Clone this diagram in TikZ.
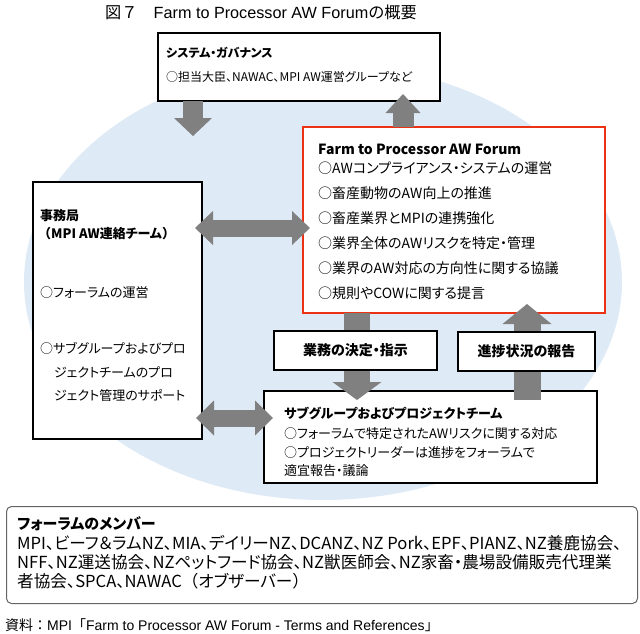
\documentclass[tikz,border=0pt]{standalone}
\usepackage{fontspec}
\usetikzlibrary{arrows.meta}
\newfontfamily\jp[RawFeature=+palt]{Noto Sans CJK JP}
\newfontfamily\jpf{Noto Sans CJK JP}
\newfontfamily\lat{Liberation Sans}
\definecolor{ellblue}{RGB}{222,234,246}
\definecolor{arrgray}{RGB}{128,128,128}
\definecolor{frred}{RGB}{235,50,20}
\definecolor{memgray}{RGB}{100,100,100}
\newcommand{\fsz}[1]{\fontsize{#1}{#1}\selectfont}
\begin{document}
\begin{tikzpicture}[x=1pt,y=-1pt,
  box/.style={draw=black,line width=1.5pt,fill=white,anchor=north west,inner sep=0pt,outer sep=0pt},
  tx/.style={anchor=base west,inner sep=0pt,font=\jp\fsz{13}},
  txb/.style={anchor=base west,inner sep=0pt,font=\jp\bfseries\fsz{13}},
  tg/.style={anchor=base west,inner sep=0pt,font=\jp\fsz{12}},
  tgb/.style={anchor=base west,inner sep=0pt,font=\jp\bfseries\fsz{12}},
  tf/.style={anchor=base west,inner sep=0pt,font=\jp\fsz{14}},
  tfb/.style={anchor=base west,inner sep=0pt,font=\jp\bfseries\fsz{14}},
  tm/.style={anchor=base west,inner sep=0pt,font=\jp\fsz{16.6}},
  tmb/.style={anchor=base west,inner sep=0pt,font=\jp\bfseries\fsz{15}},
  blk/.style={draw=arrgray,line width=#1},
]
\useasboundingbox (0,0) rectangle (640,633);
\fill[ellblue] (323,282) ellipse [x radius=299pt, y radius=218pt];

% title
\node[anchor=base,inner sep=0pt] (title) at (261,18) {\jpf\fsz{16.2}図７　{\lat Farm to Processor AW Forum}の概要};

% main boxes
\node[box,minimum width=282pt,minimum height=68pt] (gov) at (158,33) {};
\node[box,draw=frred,line width=2.8pt,minimum width=302pt,minimum height=186pt] (forum) at (303,127) {};
\node[box,minimum width=169pt,minimum height=257pt] (sec) at (33,182) {};
\node[box,minimum width=333pt,minimum height=92pt] (sub) at (264,391) {};

% governance text
\node[tgb] (govT) at (166,57) {システム・ガバナンス};
\node[tg] (govL) at (166,81) {○担当大臣、NAWAC、MPI AW運営グループなど};

% forum text
\node[tfb] (fT) at (318,154) {Farm to Processor AW Forum};
\node[tf] (f1) at (318,173) {○AWコンプライアンス・システムの運営};
\node[tf] (f2) at (318,198) {○畜産動物のAW向上の推進};
\node[tf] (f3) at (318,223) {○畜産業界とMPIの連携強化};
\node[tf] (f4) at (318,248) {○業界全体のAWリスクを特定・管理};
\node[tf] (f5) at (318,273) {○業界のAW対応の方向性に関する協議};
\node[tf] (f6) at (318,298) {○規則やCOWに関する提言};

% secretariat text
\node[txb] (s1) at (40,220) {事務局};
\node[txb] (s2) at (38,238) {{\jpf （}MPI AW連絡チーム{\jpf ）}};
\node[tx] (s3) at (40,297) {○フォーラムの運営};
\node[tx] (s4) at (40,353) {○サブグループおよびプロ};
\node[tx] (s5) at (54,377) {ジェクトチームのプロ};
\node[tx] (s6) at (54,400) {ジェクト管理のサポート};

% subgroup text
\node[txb] (g1) at (284,418) {サブグループおよびプロジェクトチーム};
\node[tx] (g2) at (284,438) {○フォーラムで特定されたAWリスクに関する対応};
\node[tx] (g3) at (284,457) {○プロジェクトリーダーは進捗をフォーラムで};
\node[tx] (g4) at (284,475) {適宜報告・議論};

% arrows
\coordinate (c1) at (193,136);
\draw[blk=20pt,-{Triangle[width=38pt,length=18pt,line width=0pt]}] (gov.south -| c1) -- (c1);
\coordinate (c2) at (403,94);
\draw[blk=21pt,-{Triangle[width=35pt,length=19pt,line width=0pt]}] (forum.north -| c2) -- (c2);
\coordinate (c3a) at (195,228);
\coordinate (c3b) at (310,228);
\draw[blk=17pt,{Triangle[width=34pt,length=18pt,line width=0pt]}-{Triangle[width=34pt,length=18pt,line width=0pt]}] (c3a) -- (c3b);
\coordinate (c4a) at (196,418);
\coordinate (c4b) at (273,418);
\draw[blk=17pt,{Triangle[width=35pt,length=18pt,line width=0pt]}-{Triangle[width=35pt,length=18pt,line width=0pt]}] (c4a) -- (c4b);
\coordinate (c5) at (357,400);
\draw[blk=26pt,-{Triangle[width=49pt,length=18pt,line width=0pt]}] (forum.south -| c5) -- (c5);
\coordinate (c6a) at (527,400);
\coordinate (c6b) at (527,304);
\draw[blk=27pt,-{Triangle[width=49pt,length=20pt,line width=0pt]}] (c6a) -- (c6b);

% label boxes over arrows
\node[box,anchor=center,minimum width=163pt,minimum height=39pt,font=\jp\bfseries\fsz{14}] (dec) at (355.5,350.5) {業務の決定・指示};
\node[box,anchor=center,minimum width=137pt,minimum height=39pt,font=\jp\bfseries\fsz{14}] (rep) at (526.5,351.5) {進捗状況の報告};

% members
\node[draw=memgray,line width=1pt,rounded corners=5pt,anchor=north west,minimum width=631pt,minimum height=97pt,inner sep=0pt] (mem) at (6,506) {};
\node[tmb] (m0) at (17,529) {フォーラムのメンバー};
\node[tm] (m1) at (17,549) {MPI、ビーフ＆ラムNZ、MIA、デイリーNZ、DCANZ、NZ Pork、EPF、PIANZ、NZ養鹿協会、};
\node[tm] (m2) at (17,568) {NFF、NZ運送協会、NZペットフード協会、NZ獣医師会、NZ家畜・農場設備販売代理業};
\node[tm] (m3) at (17,587) {者協会、SPCA、NAWAC{\jpf （}オブザーバー{\jpf ）}};

% source
\node[anchor=base west,inner sep=0pt] (src) at (5,630) {\jpf\fsz{14}資料：{\lat MPI}「{\lat Farm to Processor AW Forum - Terms and References}」};
\end{tikzpicture}
\end{document}
